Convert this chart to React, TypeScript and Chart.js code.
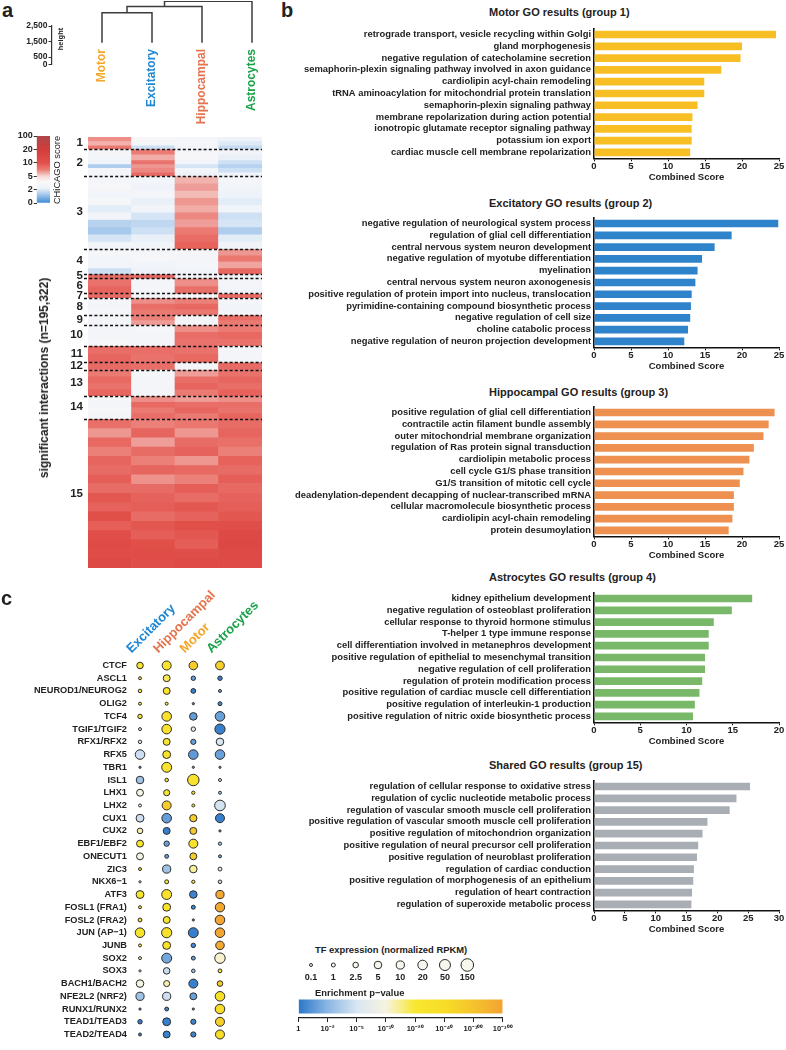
import React, { useEffect, useRef } from 'react';
import { Chart, registerables } from 'chart.js';

Chart.register(...registerables);

const FONT = '"Liberation Sans", Arial, Helvetica, sans-serif';
Chart.defaults.font.family = FONT;
Chart.defaults.color = '#222';

// ---------------- panel a: dendrogram ----------------
const LEAVES = ['Motor', 'Excitatory', 'Hippocampal', 'Astrocytes'];
const LEAF_COLORS = ['#f4a62a', '#1f86d0', '#e5734d', '#1ba24b'];
const LEAF_BASE_HEIGHT = 1410;
const MERGE_LEFT = ['Motor', 'node1', 'node2'];
const MERGE_RIGHT = ['Excitatory', 'Hippocampal', 'Astrocytes'];
const MERGE_HEIGHT = [3350, 3740, 4080];
const HEIGHT_TICKS = [0, 500, 1500, 2500];

// ---------------- panel a: heatmap ----------------
const HEATMAP_COLUMNS = ['Motor', 'Excitatory', 'Hippocampal', 'Astrocytes'];
const CHICAGO_TICKS = ['0', '2', '5', '10', '20', '100'];
const CHICAGO_TICK_VALUES = [0, 2, 5, 10, 20, 100];
// [group, interactions, Motor, Excitatory, Hippocampal, Astrocytes] (CHiCAGO score)
const HEATMAP_BANDS: number[][] = [
  [1, 1800, 7.0, 3.2, 3.0, 2.4],
  [1, 1900, 6.0, 3.0, 3.2, 2.0],
  [1, 1760, 7.8, 1.8, 2.8, 1.7],
  [2, 2400, 3.2, 7.5, 3.0, 2.6],
  [2, 2600, 2.8, 6.2, 3.2, 2.2],
  [2, 1800, 2.5, 8.0, 2.6, 1.8],
  [2, 1700, 1.4, 6.8, 1.9, 1.5],
  [2, 2000, 3.0, 7.2, 2.8, 1.8],
  [2, 1670, 2.9, 8.5, 2.4, 2.6],
  [3, 3300, 3.0, 2.8, 6.0, 2.9],
  [3, 3300, 3.2, 2.4, 6.6, 2.6],
  [3, 3300, 2.6, 2.9, 5.8, 2.3],
  [3, 3300, 3.1, 2.2, 6.8, 2.1],
  [3, 3300, 2.1, 2.7, 6.2, 2.7],
  [3, 3300, 2.7, 1.9, 7.2, 1.8],
  [3, 3300, 1.5, 1.6, 6.6, 1.9],
  [3, 3300, 1.3, 1.8, 7.6, 1.4],
  [3, 3300, 1.9, 2.2, 8.4, 2.1],
  [3, 3300, 2.6, 2.6, 9.0, 2.5],
  [4, 2900, 3.1, 3.0, 3.2, 6.8],
  [4, 2900, 2.8, 3.2, 2.9, 7.8],
  [4, 2900, 2.6, 2.7, 3.0, 6.4],
  [4, 2710, 1.8, 2.3, 2.7, 8.6],
  [5, 1910, 8.4, 8.4, 3.0, 2.8],
  [6, 3500, 8.0, 3.0, 7.0, 3.0],
  [6, 3470, 8.8, 2.9, 8.2, 2.7],
  [7, 1910, 8.4, 3.0, 3.0, 8.4],
  [8, 2600, 3.0, 7.0, 7.4, 2.9],
  [8, 2600, 2.9, 8.3, 8.6, 2.7],
  [8, 2660, 3.1, 7.6, 7.8, 3.0],
  [9, 2200, 3.0, 7.4, 3.0, 8.3],
  [9, 2240, 2.9, 6.6, 3.0, 7.6],
  [10, 3100, 3.0, 3.1, 7.0, 7.6],
  [10, 3200, 2.9, 3.0, 8.3, 8.6],
  [10, 3160, 3.1, 2.9, 8.0, 8.0],
  [11, 3700, 8.3, 8.3, 8.0, 3.0],
  [11, 3720, 8.8, 8.0, 8.6, 2.9],
  [12, 3370, 8.5, 8.3, 3.0, 8.5],
  [13, 3000, 7.6, 3.1, 6.6, 8.0],
  [13, 3000, 8.6, 3.0, 8.3, 8.8],
  [13, 2900, 8.0, 2.9, 8.8, 8.3],
  [13, 2960, 8.8, 3.0, 7.6, 9.0],
  [14, 2600, 3.1, 7.0, 6.6, 7.0],
  [14, 2600, 3.0, 8.6, 8.3, 8.3],
  [14, 2600, 3.1, 7.6, 8.8, 8.0],
  [14, 2550, 3.0, 8.3, 7.6, 8.8],
  [15, 4200, 8.2, 7.4, 7.8, 8.4],
  [15, 4200, 6.8, 8.8, 6.8, 8.8],
  [15, 4200, 8.6, 6.6, 8.4, 8.2],
  [15, 4200, 7.4, 8.4, 8.9, 7.4],
  [15, 4200, 8.8, 7.4, 6.8, 9.0],
  [15, 4200, 8.4, 8.8, 8.6, 8.4],
  [15, 4200, 9.2, 6.9, 7.4, 9.2],
  [15, 4200, 8.4, 8.4, 9.2, 8.6],
  [15, 4200, 9.6, 8.9, 8.4, 8.9],
  [15, 4200, 8.9, 9.2, 9.6, 9.2],
  [15, 4200, 10.5, 8.4, 8.9, 9.6],
  [15, 4200, 9.2, 9.6, 10.5, 11],
  [15, 4200, 11, 9.2, 9.6, 13],
  [15, 4200, 12, 10.5, 9.2, 14],
  [15, 4200, 11.5, 11.5, 11, 12.5],
  [15, 4732, 13, 11, 12, 12],
];

// ---------------- panel b: GO results ----------------
const MOTOR_TERMS = [
  'retrograde transport, vesicle recycling within Golgi',
  'gland morphogenesis',
  'negative regulation of catecholamine secretion',
  'semaphorin-plexin signaling pathway involved in axon guidance',
  'cardiolipin acyl-chain remodeling',
  'tRNA aminoacylation for mitochondrial protein translation',
  'semaphorin-plexin signaling pathway',
  'membrane repolarization during action potential',
  'ionotropic glutamate receptor signaling pathway',
  'potassium ion export',
  'cardiac muscle cell membrane repolarization',
];
const MOTOR_SCORES = [24.6, 20.0, 19.8, 17.2, 14.9, 14.9, 14.0, 13.3, 13.2, 13.2, 13.0];

const EXCITATORY_TERMS = [
  'negative regulation of neurological system process',
  'regulation of glial cell differentiation',
  'central nervous system neuron development',
  'negative regulation of myotube differentiation',
  'myelination',
  'central nervous system neuron axonogenesis',
  'positive regulation of protein import into nucleus, translocation',
  'pyrimidine-containing compound biosynthetic process',
  'negative regulation of cell size',
  'choline catabolic process',
  'negative regulation of neuron projection development',
];
const EXCITATORY_SCORES = [24.9, 18.6, 16.3, 14.6, 14.0, 13.7, 13.2, 13.1, 13.0, 12.7, 12.2];

const HIPPOCAMPAL_TERMS = [
  'positive regulation of glial cell differentiation',
  'contractile actin filament bundle assembly',
  'outer mitochondrial membrane organization',
  'regulation of Ras protein signal transduction',
  'cardiolipin metabolic process',
  'cell cycle G1/S phase transition',
  'G1/S transition of mitotic cell cycle',
  'deadenylation-dependent decapping of nuclear-transcribed mRNA',
  'cellular macromolecule biosynthetic process',
  'cardiolipin acyl-chain remodeling',
  'protein desumoylation',
];
const HIPPOCAMPAL_SCORES = [24.4, 23.6, 22.9, 21.6, 21.0, 20.2, 19.7, 18.9, 18.9, 18.7, 18.2];

const ASTROCYTES_TERMS = [
  'kidney epithelium development',
  'negative regulation of osteoblast proliferation',
  'cellular response to thyroid hormone stimulus',
  'T-helper 1 type immune response',
  'cell differentiation involved in metanephros development',
  'positive regulation of epithelial to mesenchymal transition',
  'negative regulation of cell proliferation',
  'regulation of protein modification process',
  'positive regulation of cardiac muscle cell differentiation',
  'positive regulation of interleukin-1 production',
  'positive regulation of nitric oxide biosynthetic process',
];
const ASTROCYTES_SCORES = [17.1, 14.9, 12.95, 12.4, 12.4, 12.0, 12.0, 11.7, 11.4, 10.9, 10.7];

const SHARED_TERMS = [
  'regulation of cellular response to oxidative stress',
  'regulation of cyclic nucleotide metabolic process',
  'regulation of vascular smooth muscle cell proliferation',
  'positive regulation of vascular smooth muscle cell proliferation',
  'positive regulation of mitochondrion organization',
  'positive regulation of neural precursor cell proliferation',
  'positive regulation of neuroblast proliferation',
  'regulation of cardiac conduction',
  'positive regulation of morphogenesis of an epithelium',
  'regulation of heart contraction',
  'regulation of superoxide metabolic process',
];
const SHARED_SCORES = [25.3, 23.1, 22.0, 18.4, 17.6, 16.9, 16.7, 16.2, 16.1, 15.9, 15.8];

// ---------------- panel c: TF enrichment ----------------
const TF_NAMES = [
  'CTCF', 'ASCL1', 'NEUROD1/NEUROG2', 'OLIG2', 'TCF4', 'TGIF1/TGIF2', 'RFX1/RFX2', 'RFX5', 'TBR1', 'ISL1',
  'LHX1', 'LHX2', 'CUX1', 'CUX2', 'EBF1/EBF2', 'ONECUT1', 'ZIC3', 'NKX6\u22121', 'ATF3', 'FOSL1 (FRA1)',
  'FOSL2 (FRA2)', 'JUN (AP\u22121)', 'JUNB', 'SOX2', 'SOX3', 'BACH1/BACH2', 'NFE2L2 (NRF2)', 'RUNX1/RUNX2', 'TEAD1/TEAD3', 'TEAD2/TEAD4',
];
const TF_COLUMNS = ['Excitatory', 'Hippocampal', 'Motor', 'Astrocytes'];
const TF_COLUMN_COLORS = ['#1f86d0', '#e5734d', '#f4a62a', '#1ba24b'];
// TF expression (normalized RPKM)
const RPKM_EXCITATORY = [3.5, 0.1, 0.4, 0.1, 1.3, 0.1, 0.3, 20, 0.05, 5, 4, 0.1, 7, 2.5, 4, 4, 0.1, 0.05, 7, 0.1, 0.8, 20, 0.1, 0.1, 0.05, 5, 10, 0.05, 1.3, 0.1];
const RPKM_HIPPOCAMPAL = [15, 4, 4, 0.1, 20, 20, 4, 7, 25, 0.4, 3, 15, 20, 4, 2.2, 0.8, 10, 1, 25, 7, 4, 30, 7, 25, 3.5, 3, 10, 0.8, 7, 4];
const RPKM_MOTOR = [12, 1.3, 1.6, 0.05, 5, 1.3, 2, 20, 0.05, 70, 0.2, 0.1, 4.5, 4, 15, 4, 5, 0.2, 5, 1, 0.05, 25, 1.3, 0.8, 0.4, 15, 4, 0.05, 2, 2];
const RPKM_ASTROCYTES = [13, 1.3, 0.1, 1, 20, 30, 5, 20, 0.05, 0.1, 0.1, 40, 15, 0.05, 0.2, 0.1, 0.8, 0.4, 10, 18, 20, 20, 12, 35, 0.8, 2.5, 20, 20, 15, 15];
// Enrichment p-value as -log10(p)
const NLP_EXCITATORY = [25, 22, 22, 20, 25, 7.5, 7.5, 4.5, 0.3, 2.8, 10, 7.5, 4.6, 13, 24, 10, 22, 7.5, 25, 22, 22, 28, 22, 14, 7.5, 10, 2.8, 0.3, 0.3, 0.3];
const NLP_HIPPOCAMPAL = [30, 18, 25, 22, 30, 30, 25, 28, 30, 20, 25, 80, 1.2, 0.3, 1.3, 1.2, 2.8, 22, 30, 28, 25, 32, 28, 1.5, 4.5, 13, 4.5, 0.4, 0.3, 0.3];
const NLP_MOTOR = [80, 1.2, 0.3, 0.3, 1.2, 7.5, 1.3, 1.1, 1.0, 30, 20, 20, 80, 85, 30, 80, 14, 22, 0.4, 0.4, 1.0, 0.3, 0.5, 1.2, 2.8, 0.3, 1.3, 1.1, 0.4, 0.4];
const NLP_ASTROCYTES = [70, 0.3, 1.6, 0.4, 1.3, 0.3, 5, 1.3, 1.0, 5.5, 3, 4.8, 0.3, 1.0, 2.8, 1.2, 7.5, 4.5, 260, 270, 280, 280, 260, 11, 20, 80, 35, 40, 70, 40];

const SIZE_LEGEND_VALUES = [0.1, 1, 2.5, 5, 10, 20, 50, 150];
const SIZE_LEGEND_LABELS = ['0.1', '1', '2.5', '5', '10', '20', '50', '150'];
const PVAL_TICK_EXP = [0, 2, 5, 10, 20, 40, 100, 300];
const PVAL_TICK_LABELS = ['1', '10\u207B\u00B2', '10\u207B\u2075', '10\u207B\u00B9\u2070', '10\u207B\u00B2\u2070', '10\u207B\u2074\u2070', '10\u207B\u00B9\u2070\u2070', '10\u207B\u00B3\u2070\u2070'];

// ---------------- styles ----------------
const SIZE_LEGEND_RADII = [2, 2.5, 3.3, 4.3, 4.6, 5.3, 6.0, 6.8];
const CHICAGO_STOPS: [number, string][] = [
  [0, '#3d8ad8'], [0.6, '#9fc4ea'], [1.1, '#eef3f9'], [1.6, '#fbf8f8'], [2.0, '#f6d8d5'],
  [2.5, '#eb7c75'], [3.0, '#e2504a'], [4.0, '#d23d3b'], [5.0, '#ad4749'],
];
const PVAL_STOPS: [number, string][] = [
  [0, '#2a77c9'], [1, '#8ab6e3'], [2, '#d9e6f2'], [3, '#f6f3e0'], [3.5, '#f7ee8c'],
  [4, '#f8e730'], [5, '#f7dd27'], [6, '#f5c32d'], [7, '#f3a232'],
];

function hexToRgb(h: string) {
  const n = parseInt(h.slice(1), 16);
  return [(n >> 16) & 255, (n >> 8) & 255, n & 255];
}
function rampColor(stops: [number, string][], p: number) {
  if (p <= stops[0][0]) return stops[0][1];
  for (let i = 1; i < stops.length; i++) {
    if (p <= stops[i][0]) {
      const [p0, c0] = stops[i - 1];
      const [p1, c1] = stops[i];
      const t = (p - p0) / (p1 - p0);
      const a = hexToRgb(c0);
      const b = hexToRgb(c1);
      return `rgb(${a.map((v, k) => Math.round(v + (b[k] - v) * t)).join(',')})`;
    }
  }
  return stops[stops.length - 1][1];
}
function piecewisePos(breaks: number[], v: number) {
  if (v <= breaks[0]) return 0;
  for (let i = 1; i < breaks.length; i++) {
    if (v <= breaks[i]) return i - 1 + (v - breaks[i - 1]) / (breaks[i] - breaks[i - 1]);
  }
  return breaks.length - 1;
}
const chicagoColor = (s: number) => rampColor(CHICAGO_STOPS, piecewisePos(CHICAGO_TICK_VALUES, s));
const pvalColor = (e: number) => rampColor(PVAL_STOPS, piecewisePos(PVAL_TICK_EXP, e));
function radiusFor(v: number) {
  const xs = SIZE_LEGEND_VALUES.map((x) => Math.log10(x));
  const lv = Math.log10(v);
  let r: number;
  if (lv <= xs[0]) r = Math.max(1.4, SIZE_LEGEND_RADII[0] + (lv - xs[0]) * 1.3);
  else {
    r = SIZE_LEGEND_RADII[SIZE_LEGEND_RADII.length - 1];
    for (let i = 1; i < xs.length; i++) {
      if (lv <= xs[i]) {
        const t = (lv - xs[i - 1]) / (xs[i] - xs[i - 1]);
        r = SIZE_LEGEND_RADII[i - 1] + (SIZE_LEGEND_RADII[i] - SIZE_LEGEND_RADII[i - 1]) * t;
        break;
      }
    }
  }
  return r - 0.5;
}

const base = (extra: any) => ({
  responsive: false,
  animation: false,
  events: [],
  plugins: { legend: { display: false }, tooltip: { enabled: false }, title: { display: false } },
  ...extra,
});

// ---------------- chart configs ----------------
const heightAxisConfig = () => ({
  type: 'scatter',
  data: { datasets: [] },
  options: base({
    layout: { padding: { top: 6, bottom: 5, left: 0, right: 3 } },
    scales: {
      x: { display: false, min: 0, max: 1 },
      y: {
        min: 0, max: 2500,
        afterBuildTicks: (s: any) => { s.ticks = HEIGHT_TICKS.map((v) => ({ value: v })); },
        afterFit: (s: any) => { s.width = 52; },
        ticks: { font: { size: 8.5, weight: 'bold', lineHeight: 1 }, padding: 1, callback: (v: any) => Number(v).toLocaleString('en-US') },
        grid: { display: true, drawOnChartArea: false, drawTicks: true, tickLength: 3.5, color: '#333', lineWidth: 1 },
        border: { display: true, color: '#333', width: 1.2 },
      },
    },
  }),
});

function buildDendro() {
  const pos: Record<string, number> = {};
  const hgt: Record<string, number> = {};
  LEAVES.forEach((l, i) => { pos[l] = i + 1; hgt[l] = LEAF_BASE_HEIGHT; });
  return MERGE_HEIGHT.map((h, i) => {
    const l = MERGE_LEFT[i];
    const r = MERGE_RIGHT[i];
    const pts = [
      { x: pos[l], y: hgt[l] }, { x: pos[l], y: h },
      { x: pos[r], y: h }, { x: pos[r], y: hgt[r] },
    ];
    pos['node' + (i + 1)] = (pos[l] + pos[r]) / 2;
    hgt['node' + (i + 1)] = h;
    return pts;
  });
}

const dendroConfig = () => ({
  type: 'scatter',
  data: {
    datasets: buildDendro().map((pts) => ({
      data: pts, showLine: true, borderColor: '#3c3c3c', borderWidth: 1.5, pointRadius: 0, fill: false, tension: 0,
    })),
  },
  options: base({
    layout: { padding: { top: 1, left: 52, right: 3, bottom: 0 } },
    scales: {
      x: {
        type: 'linear', min: 0, max: 4.5,
        afterBuildTicks: (s: any) => { s.ticks = LEAVES.map((_, i) => ({ value: i + 1 })); },
        afterFit: (s: any) => { s.height = 84; },
        ticks: {
          minRotation: 90, maxRotation: 90, autoSkip: false, padding: 3,
          font: { size: 12, weight: 'bold' },
          color: (ctx: any) => LEAF_COLORS[ctx.index],
          callback: (v: any) => LEAVES[Math.round(v) - 1] ?? '',
        },
        grid: { display: false, drawTicks: false }, border: { display: false },
      },
      y: { display: false, min: 1200, max: 4100 },
    },
  }),
});

const chicagoGradient = (ctx: any) => {
  const chart = ctx.chart;
  const a = chart.chartArea;
  if (!a) return '#fff';
  const g = chart.ctx.createLinearGradient(0, a.bottom, 0, a.top);
  CHICAGO_STOPS.forEach(([p, c]) => g.addColorStop(p / 5, c));
  return g;
};

const chicagoLegendConfig = () => ({
  type: 'bar',
  data: { labels: [''], datasets: [{ data: [[0, 5]], backgroundColor: chicagoGradient, barPercentage: 1, categoryPercentage: 1, borderWidth: 0 }] },
  options: base({
    layout: { padding: { top: 10, bottom: 11, left: 0, right: 0 } },
    scales: {
      x: { display: false },
      y: {
        min: 0, max: 5,
        afterBuildTicks: (s: any) => { s.ticks = CHICAGO_TICKS.map((_, i) => ({ value: i })); },
        afterFit: (s: any) => { s.width = 36.7; },
        ticks: { font: { size: 9, weight: 'bold', lineHeight: 1 }, padding: 1, callback: (v: any) => CHICAGO_TICKS[Math.round(v)] },
        grid: { display: true, drawOnChartArea: false, drawTicks: true, tickLength: 3, color: '#333' },
        border: { display: false },
      },
    },
  }),
});

const GROUP_SIZES: number[] = [];
HEATMAP_BANDS.forEach((b) => { GROUP_SIZES[b[0] - 1] = (GROUP_SIZES[b[0] - 1] || 0) + b[1]; });
const TOTAL_INTERACTIONS = GROUP_SIZES.reduce((a, b) => a + b, 0);
const GROUP_MIDS = GROUP_SIZES.map((s, i) => GROUP_SIZES.slice(0, i).reduce((a, b) => a + b, 0) + s / 2);

const groupLinesPlugin = {
  id: 'groupLines',
  afterDatasetsDraw(chart: any) {
    const { ctx, chartArea: a } = chart;
    const y = chart.scales.y;
    ctx.save();
    ctx.strokeStyle = '#111';
    ctx.lineWidth = 1.4;
    ctx.setLineDash([3, 2.2]);
    let cum = 0;
    GROUP_SIZES.slice(0, -1).forEach((s) => {
      cum += s;
      const py = Math.round(y.getPixelForValue(cum)) + 0.5;
      ctx.beginPath();
      ctx.moveTo(a.left - 4, py);
      ctx.lineTo(a.right, py);
      ctx.stroke();
    });
    ctx.restore();
  },
};

const heatmapConfig = () => ({
  type: 'bar',
  data: {
    labels: HEATMAP_COLUMNS,
    datasets: HEATMAP_BANDS.map((b) => ({
      data: [b[1], b[1], b[1], b[1]],
      backgroundColor: [b[2], b[3], b[4], b[5]].map(chicagoColor),
      borderWidth: 0, barPercentage: 1, categoryPercentage: 1, stack: 'hm',
    })),
  },
  options: base({
    layout: { padding: { top: 6, bottom: 9, right: 8, left: 0 } },
    scales: {
      x: { type: 'category', stacked: true, display: false },
      y: {
        type: 'linear', stacked: true, min: 0, max: TOTAL_INTERACTIONS, reverse: true,
        afterBuildTicks: (s: any) => { s.ticks = GROUP_MIDS.map((v) => ({ value: v })); },
        afterFit: (s: any) => { s.width = 88; },
        ticks: { autoSkip: false, padding: 5, font: { size: 11.5, weight: 'bold' }, callback: (_v: any, i: number) => String(i + 1) },
        grid: { display: false, drawTicks: false }, border: { display: false },
      },
    },
  }),
  plugins: [groupLinesPlugin],
});

const goConfig = (terms: string[], scores: number[], color: string, max: number) => () => ({
  type: 'bar',
  data: { labels: terms, datasets: [{ data: scores, backgroundColor: color, barPercentage: 0.65, categoryPercentage: 1, borderWidth: 0 }] },
  options: base({
    indexAxis: 'y',
    layout: { padding: { top: 3, right: 7, left: 0, bottom: 0 } },
    scales: {
      y: {
        type: 'category',
        afterFit: (s: any) => { s.width = 312; },
        ticks: { autoSkip: false, padding: 3, font: { size: 9.4, weight: 'bold' }, color: '#222' },
        grid: { display: false, drawTicks: false },
        border: { display: true, color: '#111', width: 1.6 },
      },
      x: {
        min: 0, max,
        afterFit: (s: any) => { s.height = 27.7; },
        ticks: { stepSize: 5, padding: 0, font: { size: 9.5, weight: 'bold', lineHeight: 1 }, color: '#222', maxRotation: 0 },
        grid: { display: true, drawOnChartArea: false, drawTicks: true, tickLength: 3, color: '#111', lineWidth: 1 },
        border: { display: true, color: '#111', width: 1.6 },
        title: { display: true, text: 'Combined Score', font: { size: 9.5, weight: 'bold' }, color: '#222', padding: { top: 0, bottom: 3.3 } },
      },
    },
  }),
});

const bubbleConfig = () => {
  const cols = [
    [RPKM_EXCITATORY, NLP_EXCITATORY],
    [RPKM_HIPPOCAMPAL, NLP_HIPPOCAMPAL],
    [RPKM_MOTOR, NLP_MOTOR],
    [RPKM_ASTROCYTES, NLP_ASTROCYTES],
  ];
  return {
    type: 'bubble',
    data: {
      datasets: cols.map(([rp, nlp], ci) => ({
        data: TF_NAMES.map((_, ri) => ({ x: ci, y: ri, r: radiusFor(rp[ri]) })),
        backgroundColor: nlp.map(pvalColor),
        borderColor: '#2b2b2b', borderWidth: 1, clip: false,
      })),
    },
    options: base({
      layout: { padding: { top: 0, left: 0, right: 69.9, bottom: 0.5 } },
      scales: {
        x: {
          type: 'linear', position: 'top', min: -0.38, max: 3.38,
          afterBuildTicks: (s: any) => { s.ticks = TF_COLUMNS.map((_, i) => ({ value: i })); },
          afterFit: (s: any) => { s.height = 83.5; },
          ticks: {
            minRotation: 45, maxRotation: 45, autoSkip: false, padding: 2,
            font: { size: 13, weight: 'bold' },
            color: (ctx: any) => TF_COLUMN_COLORS[ctx.index],
            callback: (v: any) => TF_COLUMNS[Math.round(v)] ?? '',
          },
          grid: { display: false, drawTicks: false }, border: { display: false },
        },
        y: {
          type: 'linear', min: -0.55, max: 29.55, reverse: true,
          afterBuildTicks: (s: any) => { s.ticks = TF_NAMES.map((_, i) => ({ value: i })); },
          afterFit: (s: any) => { s.width = 129.9; },
          ticks: { autoSkip: false, padding: 3, font: { size: 9.2, weight: 'bold' }, color: '#222', callback: (v: any) => TF_NAMES[Math.round(v)] ?? '' },
          grid: { display: false, drawTicks: false }, border: { display: false },
        },
      },
    }),
  };
};

const sizeLegendConfig = () => ({
  type: 'bubble',
  data: {
    datasets: [{
      data: SIZE_LEGEND_VALUES.map((v, i) => ({ x: i, y: 0.5, r: radiusFor(v) })),
      backgroundColor: '#f8f7ee', borderColor: '#2b2b2b', borderWidth: 1, clip: false,
    }],
  },
  options: base({
    layout: { padding: { top: 8, left: 13, right: 14.7, bottom: 0 } },
    scales: {
      x: {
        type: 'linear', min: 0, max: SIZE_LEGEND_VALUES.length - 1,
        afterBuildTicks: (s: any) => { s.ticks = SIZE_LEGEND_LABELS.map((_, i) => ({ value: i })); },
        afterFit: (s: any) => { s.height = 18; },
        ticks: { autoSkip: false, maxRotation: 0, padding: 1, font: { size: 9, weight: 'bold', lineHeight: 1 }, color: '#222', callback: (v: any) => SIZE_LEGEND_LABELS[Math.round(v)] ?? '' },
        grid: { display: false, drawTicks: false }, border: { display: false },
      },
      y: { display: false, min: 0, max: 1 },
    },
  }),
});

const pvalGradient = (ctx: any) => {
  const chart = ctx.chart;
  const a = chart.chartArea;
  if (!a) return '#fff';
  const g = chart.ctx.createLinearGradient(a.left, 0, a.right, 0);
  PVAL_STOPS.forEach(([p, c]) => g.addColorStop(p / 7, c));
  return g;
};

const pvalLegendConfig = () => ({
  type: 'bar',
  data: { labels: [''], datasets: [{ data: [[0, 7]], backgroundColor: pvalGradient, barPercentage: 0.61, categoryPercentage: 1, borderWidth: 0 }] },
  options: base({
    indexAxis: 'y',
    layout: { padding: { top: 3, left: 18.3, right: 17.3, bottom: 0 } },
    scales: {
      y: { display: false },
      x: {
        min: 0, max: 7,
        afterBuildTicks: (s: any) => { s.ticks = PVAL_TICK_LABELS.map((_, i) => ({ value: i })); },
        afterFit: (s: any) => { s.height = 24; },
        ticks: { autoSkip: false, maxRotation: 0, padding: 3, font: { size: 7.5, weight: 'bold', lineHeight: 1 }, color: '#222', callback: (v: any) => PVAL_TICK_LABELS[Math.round(v)] ?? '' },
        grid: { display: true, drawOnChartArea: false, drawTicks: true, tickLength: 4, color: '#222' },
        border: { display: true, color: '#222', width: 1.2 },
      },
    },
  }),
});

// ---------------- components ----------------
function ChartBox({ left, top, width, height, config }: any) {
  const ref = useRef<HTMLCanvasElement>(null);
  useEffect(() => {
    const chart = new Chart(ref.current as HTMLCanvasElement, config() as any);
    return () => chart.destroy();
  }, []);
  return <canvas ref={ref} width={width} height={height} style={{ position: 'absolute', left, top, width, height }} />;
}

function Label({ x, y, text, size, weight = 'bold', color = '#222', rotate = 0, anchor = 'center' }: any) {
  const tx = anchor === 'left' ? '0' : '-50%';
  return (
    <div
      style={{
        position: 'absolute', left: x, top: y,
        transform: `translate(${tx},-50%) rotate(${rotate}deg)`,
        fontSize: size, fontWeight: weight, color, whiteSpace: 'nowrap', lineHeight: 1, fontFamily: FONT,
      }}
    >
      {text}
    </div>
  );
}

const GO_PANELS = [
  { title: 'Motor GO results (group 1)', terms: MOTOR_TERMS, scores: MOTOR_SCORES, color: '#f8bf24', max: 25, areaTop: 22.85, titleY: 12.3 },
  { title: 'Excitatory GO results (group 2)', terms: EXCITATORY_TERMS, scores: EXCITATORY_SCORES, color: '#2e83cb', max: 25, areaTop: 212.15, titleY: 203 },
  { title: 'Hippocampal GO results (group 3)', terms: HIPPOCAMPAL_TERMS, scores: HIPPOCAMPAL_SCORES, color: '#ed9050', max: 25, areaTop: 400.55, titleY: 391.7 },
  { title: 'Astrocytes GO results (group 4)', terms: ASTROCYTES_TERMS, scores: ASTROCYTES_SCORES, color: '#79b868', max: 20, areaTop: 587.15, titleY: 576.7 },
  { title: 'Shared GO results (group 15)', terms: SHARED_TERMS, scores: SHARED_SCORES, color: '#a9adb4', max: 30, areaTop: 774.85, titleY: 765 },
];

export default function App() {
  return (
    <div style={{ position: 'absolute', left: 0, top: 0, width: 786, height: 1050, overflow: 'hidden', background: '#fff', fontFamily: FONT }}>
      {/* panel a */}
      <Label x={2} y={10.3} text="a" size={20} anchor="left" />
      <ChartBox left={0} top={0} width={280} height={130} config={dendroConfig} />
      <ChartBox left={0} top={20} width={58} height={50} config={heightAxisConfig} />
      <Label x={60.5} y={39} text="height" size={7.5} rotate={-90} />
      <ChartBox left={0} top={126} width={50} height={88} config={chicagoLegendConfig} />
      <Label x={58.3} y={169.5} text="CHiCAGO score" size={9.3} weight="normal" rotate={-90} />
      <ChartBox left={0} top={125} width={270} height={455} config={heatmapConfig} />
      <Label x={44} y={377.5} text="significant interactions (n=195,322)" size={12} rotate={-90} />

      {/* panel b */}
      <Label x={281} y={10} text="b" size={20} anchor="left" />
      {GO_PANELS.map((p, i) => (
        <React.Fragment key={i}>
          <ChartBox left={282} top={Math.round((p.areaTop - 3) * 100) / 100} width={504} height={166} config={goConfig(p.terms, p.scores, p.color, p.max)} />
          <Label x={489} y={p.titleY} text={p.title} size={11} anchor="left" />
        </React.Fragment>
      ))}

      {/* panel c */}
      <Label x={1} y={597.8} text="c" size={20} anchor="left" />
      <ChartBox left={0} top={575} width={300} height={475} config={bubbleConfig} />
      <Label x={315} y={950} text="TF expression (normalized RPKM)" size={9.4} anchor="left" />
      <ChartBox left={298} top={950} width={184} height={40} config={sizeLegendConfig} />
      <Label x={315} y={992.7} text={'Enrichment p\u2212value'} size={9.4} anchor="left" />
      <ChartBox left={280} top={992} width={240} height={50} config={pvalLegendConfig} />
    </div>
  );
}
